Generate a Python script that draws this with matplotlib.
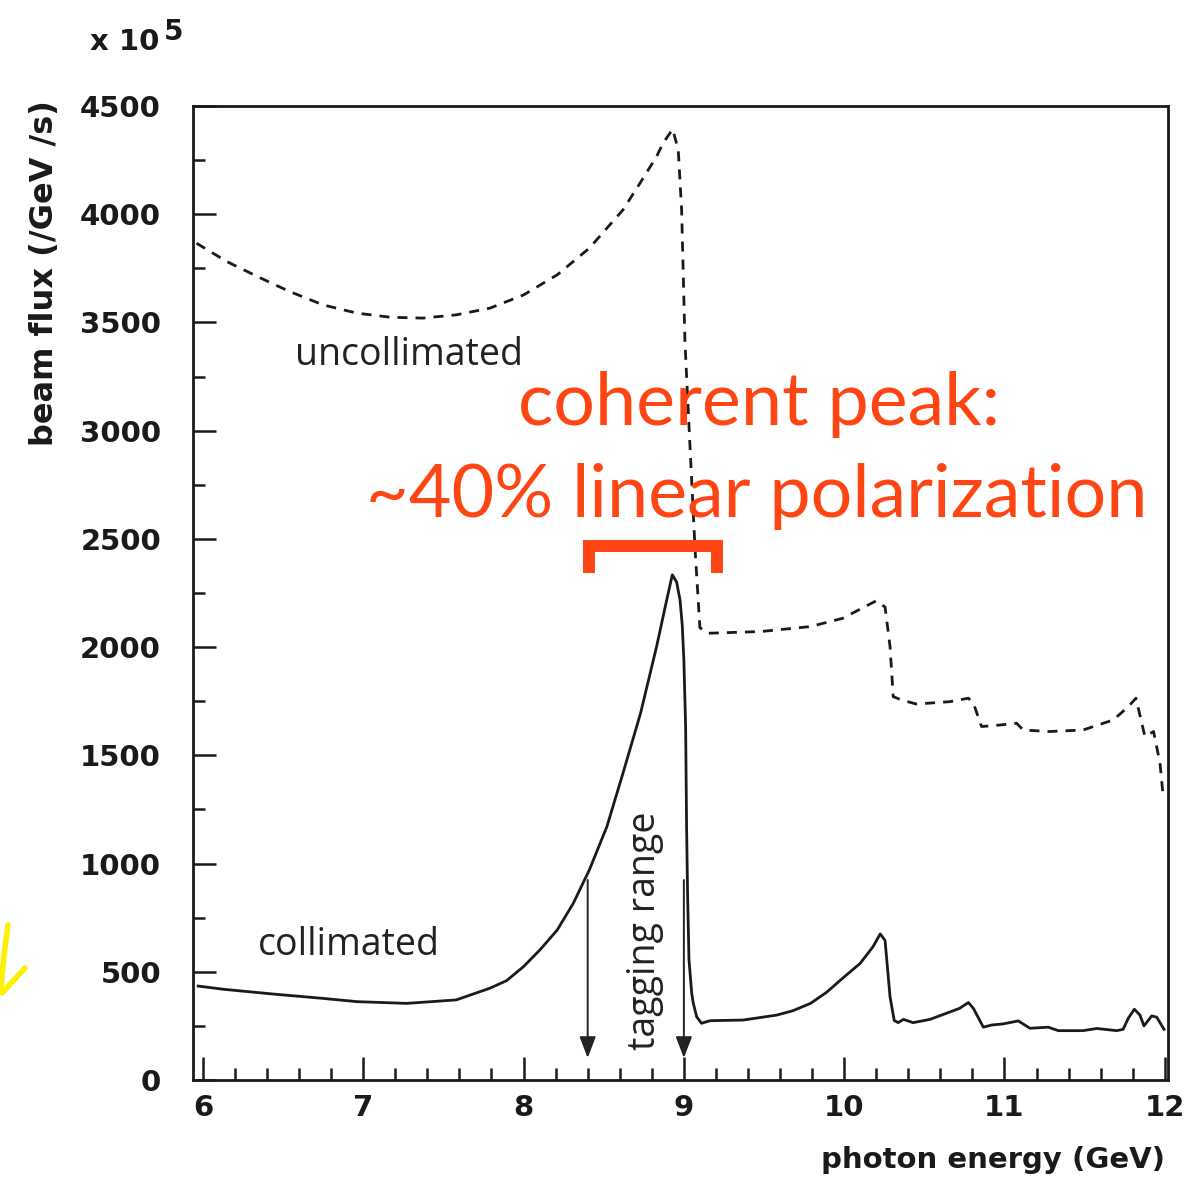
import matplotlib
matplotlib.use("Agg")
import matplotlib.pyplot as plt
from matplotlib.ticker import MultipleLocator
from matplotlib.lines import Line2D

# ---- data (x in GeV, y in units of 1e5 /GeV/s) ----
uncoll_x = [5.96, 6.15, 6.34, 6.54, 6.75, 6.96, 7.17, 7.37, 7.58, 7.79, 8.00, 8.21,
            8.41, 8.62, 8.726, 8.83, 8.87, 8.93, 8.965, 8.986, 9.007, 9.04, 9.07, 9.10, 9.15,
            9.48, 9.79, 9.99, 10.20, 10.255, 10.286, 10.306, 10.358, 10.45, 10.66,
            10.775, 10.806, 10.857, 10.97, 11.076, 11.117, 11.28, 11.49, 11.68,
            11.772, 11.82, 11.876, 11.93, 11.97, 11.99]
uncoll_y = [3866, 3781, 3712, 3643, 3581, 3543, 3524, 3520, 3535, 3566, 3627, 3720,
            3843, 4020, 4143, 4267, 4328, 4393, 4298, 4020, 3406, 2900, 2450, 2090, 2064,
            2072, 2095, 2133, 2214, 2185, 2003, 1771, 1756, 1737, 1748,
            1764, 1741, 1633, 1640, 1648, 1617, 1610, 1617, 1664,
            1725, 1764, 1587, 1610, 1464, 1309]

coll_x = [5.97, 6.13, 6.44, 6.75, 6.96, 7.27, 7.58, 7.79, 7.894, 8.00, 8.102, 8.21,
          8.31, 8.41, 8.52, 8.62, 8.73, 8.83, 8.893, 8.928, 8.955, 8.976, 8.99, 9.00,
          9.011, 9.017, 9.023, 9.032, 9.049, 9.059, 9.08, 9.11, 9.163, 9.37, 9.58,
          9.68, 9.79, 9.89, 9.99, 10.10, 10.18, 10.225, 10.255, 10.286,
          10.312, 10.337, 10.37, 10.43, 10.535, 10.72, 10.775, 10.806, 10.868,
          10.92, 10.99, 11.086, 11.159, 11.273, 11.336, 11.49, 11.575, 11.70,
          11.74, 11.772, 11.81, 11.845, 11.87, 11.918, 11.95, 11.995]
coll_y = [434, 419, 397, 377, 362, 354, 370, 424, 459, 524, 601, 693,
          816, 970, 1171, 1417, 1695, 2003, 2218, 2334, 2300, 2218, 2100, 1941,
          1632, 1171, 863, 555, 400, 354, 292, 262, 274, 277, 300,
          320, 354, 405, 470, 539, 616, 675, 645, 385,
          275, 265, 280, 265, 280, 331, 358, 331, 244,
          254, 259, 273, 239, 244, 228, 228, 238, 228,
          234, 285, 327, 300, 250, 296, 290, 234]

tag_range = [8.4, 9.0]          # GeV, tagging range arrows
bracket_x = [8.408, 9.206]      # coherent peak bracket
x_ticks = [6, 7, 8, 9, 10, 11, 12]
y_ticks = [0, 500, 1000, 1500, 2000, 2500, 3000, 3500, 4000, 4500]

ORANGE = "#FF4513"
INK = "#1a1a1a"

W, H = 1189, 1178
fig = plt.figure(figsize=(W / 100, H / 100), dpi=100)
ax = fig.add_axes([193 / W, 1 - 1080 / H, (1168 - 193) / W, (1080 - 106) / H])

ax.plot(uncoll_x, uncoll_y, color=INK, lw=2.0, linestyle=(0, (3.6, 2.9)))
ax.plot(coll_x, coll_y, color=INK, lw=2.0)

ax.set_xlim(5.938, 12.02)
ax.set_ylim(0, 4500)
ax.set_xticks(x_ticks)
ax.set_yticks(y_ticks)
ax.xaxis.set_minor_locator(MultipleLocator(0.2))
ax.yaxis.set_minor_locator(MultipleLocator(250))
ax.tick_params(axis="both", which="major", direction="in", length=16.5, width=1.8,
               labelsize=21, color=INK, labelcolor=INK)
ax.tick_params(axis="both", which="minor", direction="in", length=8.5, width=1.8, color=INK)
ax.tick_params(axis="x", which="major", pad=10)
ax.tick_params(axis="y", which="major", pad=23)
for s in ax.spines.values():
    s.set_linewidth(2.0)
    s.set_color(INK)

for lab in ax.get_xticklabels() + ax.get_yticklabels():
    lab.set_family("DejaVu Sans")
    lab.set_fontweight("bold")

fig.text(90 / W, 1 - 50 / H, "x 10", fontsize=21, color=INK, ha="left", va="baseline",
         family="DejaVu Sans", fontweight="bold")
fig.text(164 / W, 1 - 40 / H, "5", fontsize=20, color=INK, ha="left", va="baseline",
         family="DejaVu Sans", fontweight="bold")
fig.text(45 / W, 1 - 100 / H, "beam flux (/GeV /s)", rotation=90, fontsize=23, color=INK,
         ha="center", va="top", family="DejaVu Sans", fontweight="bold")
fig.text(1165 / W, 1 - 1160 / H, "photon energy (GeV)", fontsize=21, color=INK,
         ha="right", va="center", family="DejaVu Sans", fontweight="bold")

ax.text(6.574, 3303, "uncollimated", fontsize=27, color="#222222", ha="left", va="baseline",
        family="Open Sans")
ax.text(6.343, 577, "collimated", fontsize=27, color="#222222", ha="left", va="baseline",
        family="Open Sans")
ax.text(8.757, 139, "tagging range", fontsize=27, color="#222222", rotation=90,
        ha="center", va="bottom", family="Open Sans")

ax.text(9.468, 3026, "coherent peak:", fontsize=53, color=ORANGE, ha="center", va="baseline",
        family="Lato")
ax.text(9.456, 2601, "~40% linear polarization", fontsize=53, color=ORANGE, ha="center",
        va="baseline", family="Lato")

ax.plot([bracket_x[0], bracket_x[0], bracket_x[1], bracket_x[1]], [2342, 2465, 2465, 2342],
        color=ORANGE, lw=8.6, solid_joinstyle="miter", solid_capstyle="butt")

for xv in tag_range:
    ax.annotate("", xy=(xv, 102), xytext=(xv, 924),
                arrowprops=dict(arrowstyle="-|>,head_length=0.65,head_width=0.25",
                                mutation_scale=20, color="#222222", lw=1.4,
                                shrinkA=0, shrinkB=0))

# yellow hand-drawn stroke at the left edge of the slide
fig.add_artist(Line2D([8 / W, 4 / W, 1 / W], [1 - 925 / H, 1 - 955 / H, 1 - 988 / H],
                      color="#FFF000", lw=4, transform=fig.transFigure,
                      solid_capstyle="round"))
fig.add_artist(Line2D([25 / W, 2 / W], [1 - 968 / H, 1 - 993 / H], color="#FFF000", lw=4,
                      transform=fig.transFigure, solid_capstyle="round"))

fig.savefig("out.png", dpi=100)
